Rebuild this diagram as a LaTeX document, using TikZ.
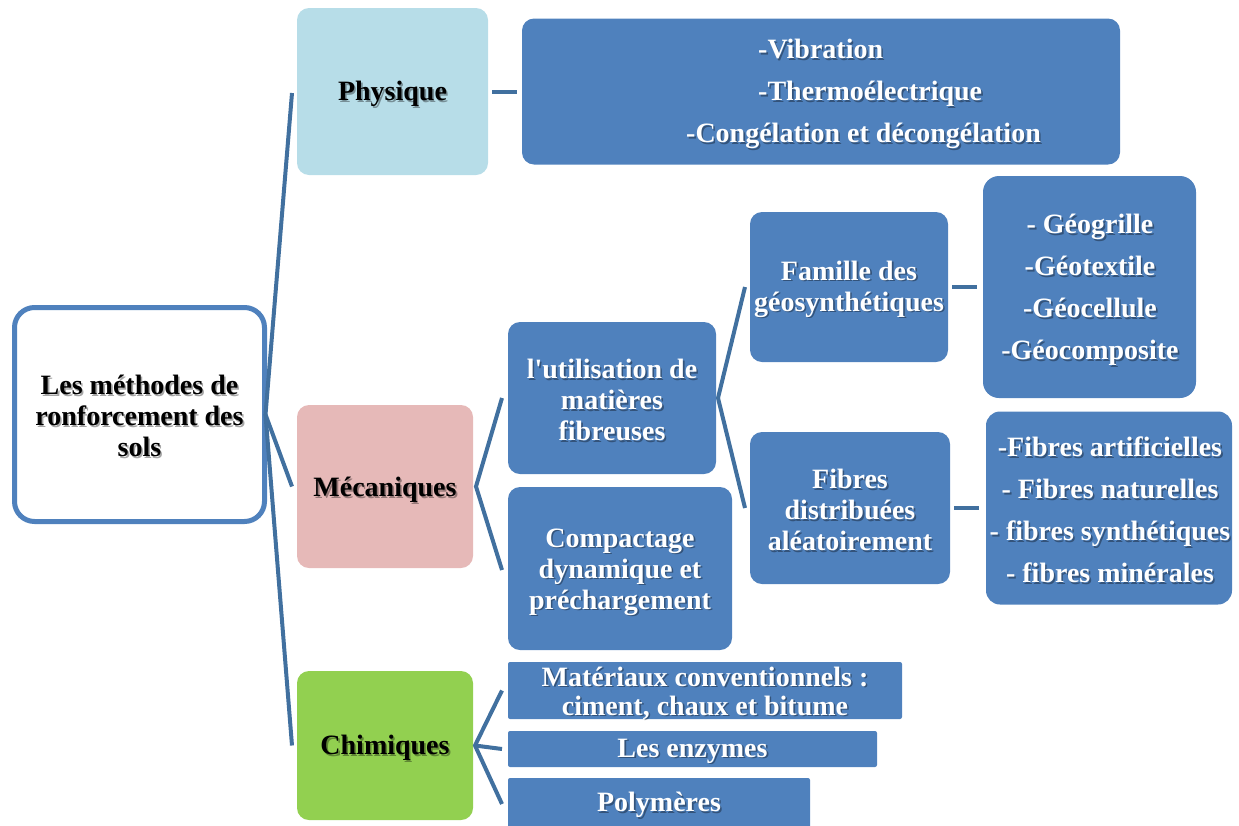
\documentclass[tikz,border=0pt]{standalone}
\usepackage{fontspec}
\setmainfont{Liberation Serif}
\definecolor{bxblue}{HTML}{4F81BD}
\definecolor{lnblue}{HTML}{41709F}
\definecolor{physc}{HTML}{B7DDE8}
\definecolor{mecac}{HTML}{E6B9B8}
\definecolor{chimc}{HTML}{92D050}
\tikzset{
  box/.style={rectangle, inner sep=0pt, outer sep=0pt, draw=none, rounded corners=12pt},
  bluebox/.style={box, fill=bxblue},
  flatbox/.style={rectangle, inner sep=0pt, outer sep=0pt, fill=bxblue, rounded corners=2pt},
  txt/.style={inner sep=0pt, align=center, font=\bfseries\fontsize{28}{31}\selectfont},
  listtxt/.style={txt, font=\bfseries\fontsize{28}{42}\selectfont},
  conn/.style={draw=lnblue, line width=4pt}
}
\newcommand\lbl[5][]{%
  \node[txt,#1,text=black,opacity=.35] (#2-sh) at ([shift={(1.6,4.6)}]#3) {#5};
  \node[txt,#1,text=#4] (#2-t) at ([shift={(0,3)}]#3) {#5};}
\begin{document}
\begin{tikzpicture}[x=1pt,y=-1pt]
\useasboundingbox (0,0) rectangle (1239,825);
% boxes
\node[box, fill=white, draw=bxblue, line width=5pt, rounded corners=20pt, minimum width=250pt, minimum height=214pt] (root) at (139.5,414.5) {};
\node[box, fill=physc, minimum width=191pt, minimum height=167pt] (phys) at (392.5,91.5) {};
\node[bluebox, minimum width=598pt, minimum height=146pt] (physl) at (821,91.5) {};
\node[box, fill=mecac, minimum width=176pt, minimum height=163pt] (meca) at (385,486.5) {};
\node[box, fill=chimc, minimum width=176pt, minimum height=149pt] (chim) at (385,745.5) {};
\node[bluebox, minimum width=208pt, minimum height=152pt] (util) at (612,398) {};
\node[bluebox, minimum width=224pt, minimum height=163pt] (comp) at (620,568.5) {};
\node[bluebox, minimum width=198pt, minimum height=150pt] (fam) at (849,287) {};
\node[bluebox, minimum width=200pt, minimum height=152pt] (fibd) at (850,508) {};
\node[bluebox, rounded corners=16pt, minimum width=213pt, minimum height=222pt] (geo) at (1089.5,287) {};
\node[bluebox, rounded corners=14pt, minimum width=246pt, minimum height=193pt] (fibl) at (1109,508) {};
\node[flatbox, minimum width=394pt, minimum height=57pt] (mat) at (705,690.5) {};
\node[flatbox, minimum width=369pt, minimum height=36pt] (enz) at (692.5,749) {};
\node[flatbox, minimum width=302pt, minimum height=52pt] (poly) at (659,804) {};
% connectors
\coordinate (rj) at ([xshift=1pt]root.east);
\draw[conn] ([xshift=-5pt,yshift=-1.5pt]phys.west) -- (rj) -- ([xshift=-5pt]meca.west);
\draw[conn] (rj) -- ([xshift=-5pt]chim.west);
\coordinate (mj) at ([xshift=3pt]meca.east);
\draw[conn] ([xshift=-6pt]util.west) -- (mj) -- ([xshift=-6pt,yshift=-1.5pt]comp.west);
\coordinate (uj) at ([xshift=2pt]util.east);
\draw[conn] ([xshift=-5pt]fam.west) -- (uj) -- ([xshift=-5pt]fibd.west);
\coordinate (cj) at ([xshift=2pt]chim.east);
\draw[conn] ([xshift=-6pt]mat.west) -- (cj) -- ([xshift=-6pt]poly.west);
\draw[conn] (cj) -- ([xshift=-6pt]enz.west);
\draw[conn] ([xshift=4pt]phys.east) -- ([xshift=-5pt]physl.west);
\draw[conn] ([xshift=4pt]fam.east) -- ([xshift=-6pt]geo.west);
\draw[conn] ([xshift=4pt]fibd.east) -- ([xshift=-7pt]fibl.west);
% labels
\lbl{root}{139.5,413}{black}{Les méthodes de\\ronforcement des\\sols}
\lbl{phys}{392.5,91}{black}{Physique}
\lbl{meca}{385,487}{black}{Mécaniques}
\lbl{chim}{385,745}{black}{Chimiques}
\lbl[listtxt, align=left, anchor=west]{physl}{686,91}{white}{\hspace*{72pt}-Vibration\\\hspace*{72pt}-Thermoélectrique\\-Congélation et décongélation}
\lbl{util}{612,397}{white}{l\textquotesingle utilisation de\\matières\\fibreuses}
\lbl{comp}{620,569}{white}{Compactage\\dynamique et\\préchargement}
\lbl{fam}{849,286}{white}{Famille des\\géosynthétiques}
\lbl{fibd}{850,507}{white}{Fibres\\distribuées\\aléatoirement}
\lbl[listtxt]{geo}{1090,287}{white}{- Géogrille\\-Géotextile\\-Géocellule\\-Géocomposite}
\lbl[listtxt]{fibl}{1110,507}{white}{-Fibres artificielles\\- Fibres naturelles\\- fibres synthétiques\\- fibres minérales}
\lbl[font=\bfseries\fontsize{28}{29}\selectfont]{mat}{705,690}{white}{Matériaux conventionnels :\\ciment, chaux et bitume}
\lbl{enz}{692.5,748}{white}{Les enzymes}
\lbl{poly}{659,802}{white}{Polymères}
\end{tikzpicture}
\end{document}
